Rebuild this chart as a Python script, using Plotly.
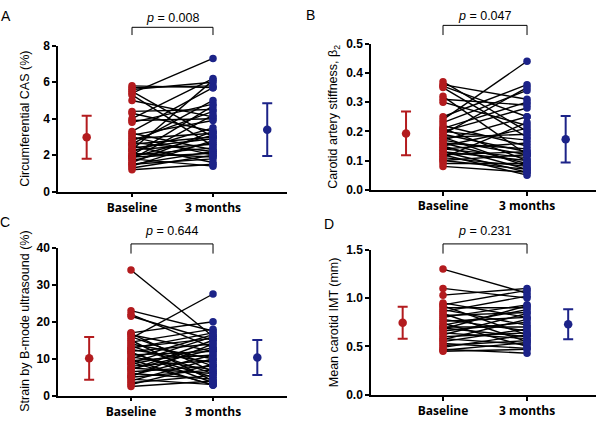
import plotly.graph_objects as go

# ---------------- data ----------------
groups = ["Baseline", "3 months"]

a_base = [5.8, 5.7, 5.6, 5.5, 5.4, 5.3, 5.0, 4.4, 4.3, 4.0, 3.9, 3.8, 3.3, 3.2, 3.1, 3.0, 2.9, 2.8, 2.7, 2.6,
          2.6, 2.5, 2.4, 2.3, 2.3, 2.2, 2.1, 2.0, 2.0, 1.9, 1.9, 1.8, 1.8, 1.7, 1.6, 1.5, 1.5, 1.4, 1.3, 1.2]
a_3m = [5.7, 5.8, 6.0, 3.0, 7.3, 2.5, 4.1, 4.5, 3.3, 6.2, 4.0, 4.8, 5.7, 2.3, 3.9, 2.0, 3.2, 4.4, 2.2, 5.0,
        3.0, 1.6, 2.9, 6.1, 2.6, 3.5, 1.9, 4.7, 2.4, 3.1, 2.1, 4.2, 1.4, 2.7, 3.3, 2.2, 1.8, 2.8, 2.0, 1.5]
a_mean = [2.98, 3.40]
a_sd = [1.18, 1.45]

b_base = [0.37, 0.36, 0.355, 0.35, 0.32, 0.31, 0.30, 0.25, 0.24, 0.23, 0.22, 0.21, 0.21, 0.20, 0.20, 0.19,
          0.19, 0.18, 0.18, 0.17, 0.17, 0.16, 0.16, 0.15, 0.15, 0.14, 0.14, 0.13, 0.13, 0.12, 0.12, 0.11,
          0.11, 0.10, 0.10, 0.09, 0.08]
b_3m = [0.20, 0.31, 0.25, 0.18, 0.12, 0.29, 0.22, 0.36, 0.44, 0.34, 0.15, 0.30, 0.10, 0.28, 0.17, 0.13,
        0.35, 0.08, 0.19, 0.12, 0.25, 0.09, 0.14, 0.21, 0.07, 0.11, 0.16, 0.06, 0.10, 0.13, 0.05, 0.08,
        0.23, 0.07, 0.12, 0.09, 0.06]
b_mean = [0.193, 0.173]
b_sd = [0.075, 0.080]

c_base = [34.0, 23.0, 22.0, 21.5, 17.0, 16.8, 16.5, 16.0, 15.5, 15.0, 14.5, 14.0, 13.5, 13.0, 12.8, 12.5,
          12.0, 11.8, 11.5, 11.0, 10.5, 10.0, 9.8, 9.5, 9.0, 8.8, 8.5, 8.0, 7.5, 7.2, 7.0, 6.5, 6.0, 5.5,
          5.2, 5.0, 4.5, 4.0, 3.5, 3.0, 2.5]
c_3m = [16.0, 17.5, 13.0, 15.0, 20.0, 6.5, 12.0, 8.0, 27.5, 4.0, 18.0, 10.0, 6.0, 15.5, 17.0, 9.0,
        14.0, 3.5, 5.0, 12.0, 7.0, 16.5, 2.8, 11.0, 3.0, 16.0, 13.0, 9.5, 6.0, 12.5, 15.0, 8.0, 4.5, 11.0,
        14.0, 7.0, 3.0, 10.0, 5.5, 8.5, 4.0]
c_mean = [10.1, 10.35]
c_sd = [5.8, 4.75]

d_base = [1.30, 1.10, 1.03, 0.95, 0.93, 0.92, 0.90, 0.88, 0.86, 0.84, 0.82, 0.80, 0.78, 0.76, 0.74, 0.72,
          0.70, 0.69, 0.68, 0.66, 0.64, 0.62, 0.60, 0.58, 0.57, 0.55, 0.53, 0.51, 0.49, 0.47, 0.46, 0.45]
d_3m = [1.05, 1.00, 1.10, 0.80, 1.08, 0.62, 0.90, 0.72, 1.02, 0.55, 0.85, 0.93, 0.66, 0.80, 0.50, 0.88,
        0.70, 0.60, 0.92, 0.75, 0.58, 0.84, 0.64, 0.52, 0.78, 0.68, 0.48, 0.56, 0.62, 0.43, 0.54, 0.47]
d_mean = [0.745, 0.73]
d_sd = [0.165, 0.155]

p_values = ["0.008", "0.047", "0.644", "0.231"]
y_titles = ["Circumferential CAS (%)", "Carotid artery stiffness, β<sub>2</sub>",
            "Strain by B-mode ultrasound (%)", "Mean carotid IMT (mm)"]
panel_letters = ["A", "B", "C", "D"]

# ---------------- styling / layout ----------------
RED = "#B31B1E"
BLUE = "#1C2388"
W, H = 600, 424

panels = [
    dict(base=a_base, m3=a_3m, mean=a_mean, sd=a_sd, px=(58, 287), py=(40, 191), yr=[0, 8], dt=2,
         xr=[0.086, 2.914], mx=[0.44, 2.67], fmt="d", br=(21, 29), pt=11, ttl_x=25, let=(6, 9)),
    dict(base=b_base, m3=b_3m, mean=b_mean, sd=b_sd, px=(371, 596), py=(38, 189), yr=[0, 0.5], dt=0.1,
         xr=[0.143, 2.821], mx=[0.56, 2.46], fmt=".1f", br=(19, 29), pt=9, ttl_x=334, let=(310, 8)),
    dict(base=c_base, m3=c_3m, mean=c_mean, sd=c_sd, px=(58, 287), py=(249, 402), yr=[0, 40], dt=10,
         xr=[0.110, 2.902], mx=[0.49, 2.54], fmt="d", br=(245, 255), pt=232, ttl_x=25, let=(5, 222)),
    dict(base=d_base, m3=d_3m, mean=d_mean, sd=d_sd, px=(371, 596), py=(251, 401), yr=[0, 1.5], dt=0.5,
         xr=[0.143, 2.821], mx=[0.52, 2.49], fmt=".1f", br=(245, 255), pt=232, ttl_x=334, let=(329, 224)),
]

fig = go.Figure()
annotations = []
shapes = []

for i, p in enumerate(panels):
    sfx = "" if i == 0 else str(i + 1)
    xa, ya = "x" + sfx, "y" + sfx
    # paired lines
    lx, ly = [], []
    for b, m in zip(p["base"], p["m3"]):
        lx += [1, 2, None]
        ly += [b, m, None]
    fig.add_trace(go.Scatter(x=lx, y=ly, mode="lines", line=dict(color="black", width=1.4),
                             xaxis=xa, yaxis=ya, showlegend=False, hoverinfo="skip"))
    fig.add_trace(go.Scatter(x=[1] * len(p["base"]), y=p["base"], mode="markers",
                             marker=dict(color=RED, size=7.5), xaxis=xa, yaxis=ya, showlegend=False))
    fig.add_trace(go.Scatter(x=[2] * len(p["m3"]), y=p["m3"], mode="markers",
                             marker=dict(color=BLUE, size=7.5), xaxis=xa, yaxis=ya, showlegend=False))
    # mean +/- SD
    for k, col in enumerate([RED, BLUE]):
        fig.add_trace(go.Scatter(x=[p["mx"][k]], y=[p["mean"][k]], mode="markers",
                                 marker=dict(color=col, size=8.5),
                                 error_y=dict(type="data", array=[p["sd"][k]], color=col,
                                              thickness=2, width=5),
                                 xaxis=xa, yaxis=ya, showlegend=False))
    dom_x = [p["px"][0] / W, p["px"][1] / W]
    dom_y = [1 - p["py"][1] / H, 1 - p["py"][0] / H]
    fig.layout["xaxis" + sfx] = dict(domain=dom_x, range=p["xr"], anchor=ya,
                                     tickmode="array", tickvals=[1, 2], ticktext=groups,
                                     ticks="outside", ticklen=4, tickwidth=1.5, tickcolor="black",
                                     showline=True, linecolor="black", linewidth=1.5,
                                     showgrid=False, zeroline=False,
                                     tickfont=dict(family="Open Sans", size=12, color="black",
                                                   weight="bold"))
    fig.layout["yaxis" + sfx] = dict(domain=dom_y, range=p["yr"], anchor=xa,
                                     dtick=p["dt"], tickformat=p["fmt"],
                                     ticks="outside", ticklen=4, tickwidth=1.5, tickcolor="black",
                                     showline=True, linecolor="black", linewidth=1.5,
                                     showgrid=False, zeroline=False,
                                     tickfont=dict(family="Liberation Sans", size=12, color="black",
                                                   weight="bold"))
    # bracket
    yt = 1 - p["br"][0] / H
    yb = 1 - p["br"][1] / H
    shapes.append(dict(type="path", xref=xa, yref="paper",
                       path=f"M 1 {yb} L 1 {yt} L 2 {yt} L 2 {yb}",
                       line=dict(color="black", width=1)))
    annotations.append(dict(x=1.5, xref=xa, y=1 - p["pt"] / H, yref="paper", showarrow=False,
                            text=f"<i>p</i> = {p_values[i]}", xanchor="center", yanchor="middle",
                            font=dict(family="Liberation Sans", size=12.5, color="black")))
    # y title
    annotations.append(dict(x=p["ttl_x"] / W, xref="paper", y=(dom_y[0] + dom_y[1]) / 2, yref="paper",
                            text=y_titles[i], textangle=-90, showarrow=False,
                            xanchor="center", yanchor="middle",
                            font=dict(family="Liberation Sans", size=12.5, color="black")))
    # panel letter
    annotations.append(dict(x=p["let"][0] / W, xref="paper", y=1 - p["let"][1] / H, yref="paper",
                            text=panel_letters[i], showarrow=False, xanchor="center", yanchor="middle",
                            font=dict(family="Liberation Sans", size=14, color="black")))

fig.update_layout(width=W, height=H, margin=dict(l=0, r=0, t=0, b=0),
                  paper_bgcolor="white", plot_bgcolor="white",
                  shapes=shapes, annotations=annotations, showlegend=False)

fig.write_html("out.html", config={"displayModeBar": False},
               post_script="document.body.style.margin='0';")
